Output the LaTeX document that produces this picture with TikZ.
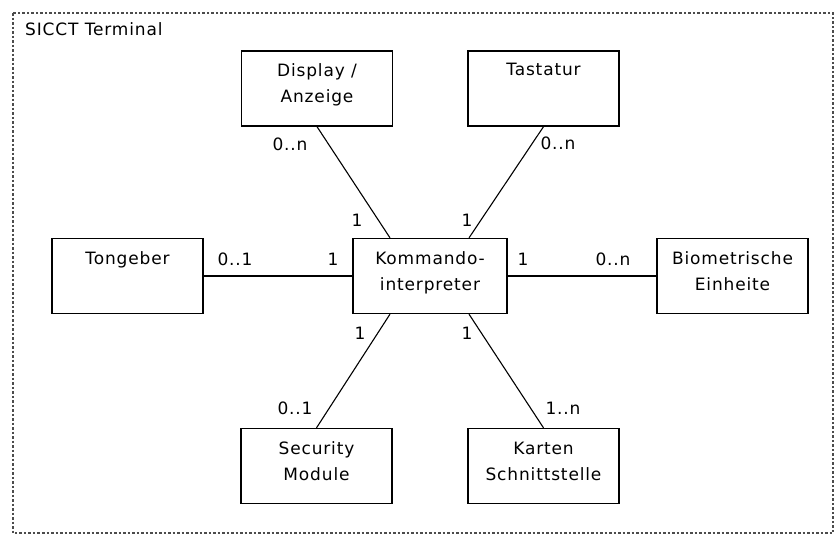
\documentclass[tikz,border=0pt]{standalone}
\usepackage{fontspec}
\setmainfont{DejaVu Sans}[LetterSpace=5]
\begin{document}
\begin{tikzpicture}[x=1pt,y=-1pt,
  comp/.style={draw=black, line width=1.3pt, minimum width=151pt, minimum height=75pt, inner sep=0pt},
  ctext/.style={anchor=north, align=center, font=\fontsize{17}{26}\selectfont, inner sep=0pt},
  mult/.style={font=\fontsize{17}{20}\selectfont, inner sep=0pt},
  conn/.style={draw=black, line width=1.1pt}]
\useasboundingbox (0,0) rectangle (837,538);
\draw[gray!60!black, line width=1.1pt, dash pattern=on 2.5pt off 2pt] (13,13) rectangle (833,533);
\node[mult, anchor=west] (title) at (25,29) {SICCT Terminal};

\node[comp] (disp) at (317,88.5) {};
\node[comp] (tast) at (543.5,88.5) {};
\node[comp] (tong) at (127.5,276) {};
\node[comp, minimum width=154pt] (kom) at (430,276) {};
\node[comp] (bio) at (732.5,276) {};
\node[comp] (sec) at (316.5,466) {};
\node[comp] (kart) at (543.5,466) {};

\node[ctext] (dispT) at ([yshift=-13]disp.north) {Display /\\Anzeige};
\node[ctext] (tastT) at ([yshift=-13]tast.north) {Tastatur};
\node[ctext] (tongT) at ([yshift=-14]tong.north) {Tongeber};
\node[ctext] (komT) at ([yshift=-14]kom.north) {Kommando-\\interpreter};
\node[ctext] (bioT) at ([yshift=-14]bio.north) {Biometrische\\Einheite};
\node[ctext] (secT) at ([yshift=-14]sec.north) {Security\\Module};
\node[ctext] (kartT) at ([yshift=-14]kart.north) {Karten\\Schnittstelle};

\draw[conn] (disp.south) -- ([xshift=-40]kom.north);
\draw[conn] (tast.south) -- ([xshift=39]kom.north);
\draw[conn] (tong.east) -- (kom.west);
\draw[conn] (kom.east) -- (bio.west);
\draw[conn] (sec.north) -- ([xshift=-40]kom.south);
\draw[conn] (kart.north) -- ([xshift=39]kom.south);

\node[mult] (m1) at (290,144) {0..n};
\node[mult] (m2) at (357,220) {1};
\node[mult] (m3) at (558,143) {0..n};
\node[mult] (m4) at (467,220) {1};
\node[mult] (m5) at (235,259) {0..1};
\node[mult] (m6) at (333,259) {1};
\node[mult] (m7) at (523,259) {1};
\node[mult] (m8) at (613,259) {0..n};
\node[mult] (m9) at (360,333) {1};
\node[mult] (m10) at (467,333) {1};
\node[mult] (m11) at (295,408) {0..1};
\node[mult] (m12) at (563,408) {1..n};
\end{tikzpicture}
\end{document}
